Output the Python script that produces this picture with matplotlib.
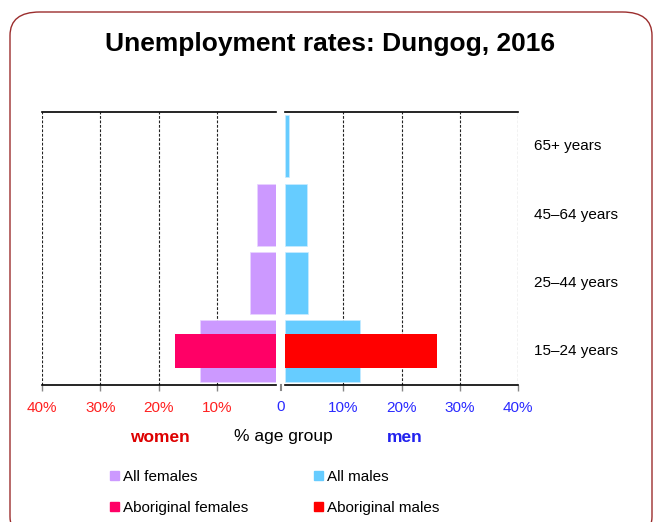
import matplotlib
matplotlib.use("Agg")
import matplotlib.pyplot as plt
from matplotlib.patches import FancyBboxPatch, Patch

plt.rcParams['font.family'] = ['Liberation Sans', 'DejaVu Sans']

categories = ["15–24 years", "25–44 years", "45–64 years", "65+ years"]
all_females = [13.0, 4.4, 3.2, 0.0]
all_males = [12.9, 4.0, 3.8, 0.7]
aboriginal_females = [17.2, 0.0, 0.0, 0.0]
aboriginal_males = [26.1, 0.0, 0.0, 0.0]
ticks = [10, 20, 30, 40]
tick_labels = ["10%", "20%", "30%", "40%"]

c_af, c_am = "#CC99FF", "#66CCFF"
c_abf, c_abm = "#FF0066", "#FF0000"

fig = plt.figure(figsize=(6.6, 5.22), dpi=100)
W, H = 660, 522

def fx(px):
    return px / W

def fy(py):
    return 1 - py / H

# Border
border = FancyBboxPatch((fx(10), fy(540)), fx(652) - fx(10), fy(12) - fy(540),
                        boxstyle="round,pad=0,rounding_size=0.045",
                        transform=fig.transFigure, facecolor="none",
                        edgecolor="#9b2d2d", linewidth=1.0, zorder=0)
fig.patches.append(border)

fig.text(0.5, fy(44), "Unemployment rates: Dungog, 2016", ha="center", va="center",
         fontsize=19, fontweight="bold")

top, bot = 112.3, 385.3
axL = fig.add_axes([fx(41.7), fy(bot), fx(276) - fx(41.7), fy(top) - fy(bot)])
axR = fig.add_axes([fx(285), fy(bot), fx(518) - fx(285), fy(top) - fy(bot)])

y = list(range(len(categories)))
axL.barh(y, all_females, height=0.91, color=c_af, edgecolor="#e8d4ff", linewidth=0.5, zorder=2)
axL.barh(y, aboriginal_females, height=0.5, color=c_abf, zorder=3)
axR.barh(y, all_males, height=0.91, color=c_am, edgecolor="#c8ecff", linewidth=0.5, zorder=2)
axR.barh(y, aboriginal_males, height=0.5, color=c_abm, zorder=3)

axL.set_xlim(40, 0)
axR.set_xlim(0, 40)
for ax, col in ((axL, "#ff2020"), (axR, "#2a2aff")):
    ax.set_ylim(-0.5, 3.5)
    ax.set_yticks([])
    ax.set_xticks(ticks)
    ax.set_xticklabels(tick_labels)
    ax.tick_params(axis="x", length=4, width=1, color="#888888", colors=col,
                   labelsize=11, pad=7)
    for t in ax.get_xticklabels():
        t.set_color(col)
    for s in ("left", "right"):
        ax.spines[s].set_visible(False)
    for s in ("top", "bottom"):
        ax.spines[s].set_linewidth(1.2)
    for v in ticks:
        ax.axvline(v, color="#222222", linestyle=(0, (2.5, 1.5)), linewidth=0.8, zorder=1)

fig.text(fx(280.5), fy(407), "0", ha="center", va="center", fontsize=11, color="#2a2aff")
fig.add_artist(plt.Line2D([fx(280.5), fx(280.5)], [fy(385), fy(390)],
                          transform=fig.transFigure, color="#888888", linewidth=1.5))

for yi, lab in zip(y, categories):
    axR.text(1.07, (yi + 0.5) / 4, lab, transform=axR.transAxes, ha="left",
             va="center", fontsize=11)

fig.text(fx(160), fy(437), "women", ha="center", va="center", fontsize=12.5,
         fontweight="bold", color="#dd0000")
fig.text(fx(283), fy(437), "% age group", ha="center", va="center", fontsize=12.5)
fig.text(fx(405), fy(437), "men", ha="center", va="center", fontsize=12.5,
         fontweight="bold", color="#2222ee")

handles = [Patch(color=c_af), Patch(color=c_abf), Patch(color=c_am), Patch(color=c_abm)]
labels = ["All females", "Aboriginal females", "All males", "Aboriginal males"]
fig.legend(handles, labels, ncol=2, frameon=False, loc="upper left",
           bbox_to_anchor=(fx(110), fy(470)), borderaxespad=0, borderpad=0,
           handlelength=0.6, handleheight=0.6, handletextpad=0.25,
           columnspacing=4.3, labelspacing=1.1, fontsize=11)

fig.savefig("out.png", dpi=100)
